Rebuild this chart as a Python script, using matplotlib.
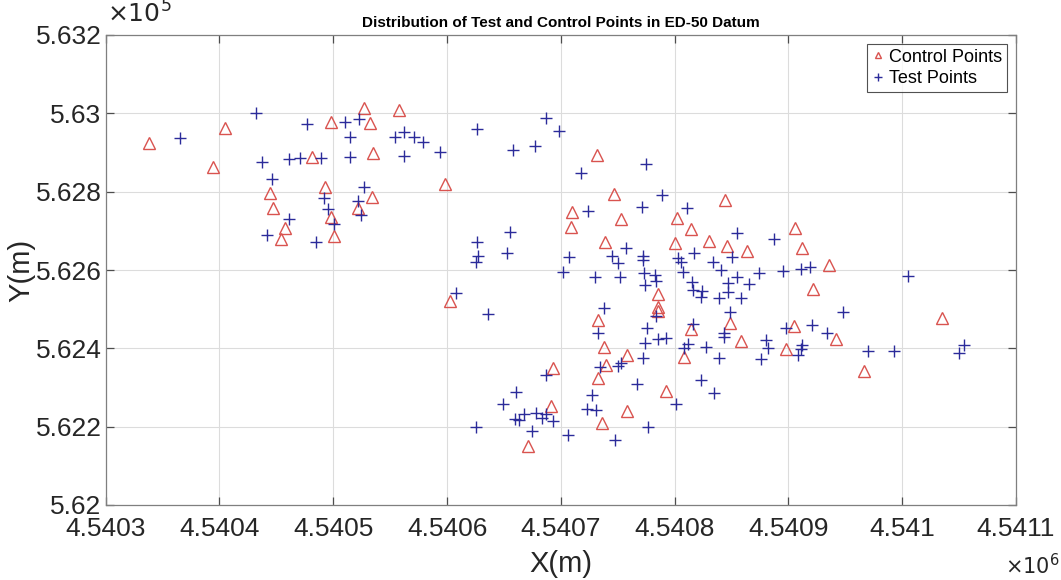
import matplotlib
matplotlib.use("Agg")
import matplotlib.pyplot as plt
from matplotlib.ticker import FuncFormatter

# Control points (ED-50, metres)
ctrl_x = [4540338, 4540405, 4540394, 4540481, 4540498, 4540532, 4540527, 4540558, 4540535, 4540493,
          4540444, 4540598, 4540747, 4540732, 4540534, 4540447, 4540522, 4540498, 4540458, 4540454,
          4540501, 4540710, 4540753, 4540802, 4540709, 4540814, 4540739, 4540800, 4540830, 4540603,
          4540785, 4540785, 4540785, 4540733, 4540814, 4540738, 4540844, 4540906, 4540846, 4540864,
          4540912, 4540936, 4540922, 4541035, 4540849, 4540905, 4540942, 4540858, 4540898, 4540966,
          4540758, 4540740, 4540808, 4540693, 4540733, 4540792, 4540691, 4540758, 4540736, 4540671]
ctrl_y = [562924, 562962, 562864, 562888, 562977, 562976, 563013, 563009, 562900, 562811,
          562797, 562820, 562793, 562894, 562786, 562759, 562758, 562736, 562708, 562679,
          562688, 562747, 562731, 562734, 562711, 562704, 562671, 562670, 562674, 562522,
          562539, 562505, 562496, 562472, 562449, 562403, 562779, 562706, 562662, 562648,
          562657, 562614, 562551, 562477, 562464, 562457, 562424, 562419, 562398, 562343,
          562383, 562357, 562377, 562350, 562324, 562292, 562253, 562240, 562210, 562151]

# Test points
test_x = [4540365, 4540432, 4540437, 4540446, 4540477, 4540461, 4540471, 4540489, 4540510, 4540523,
          4540515, 4540515, 4540554, 4540562, 4540562, 4540527, 4540571, 4540579, 4540594, 4540626,
          4540658, 4540677, 4540687, 4540698, 4540718, 4540775, 4540492, 4540522, 4540495, 4540524,
          4540461, 4540501, 4540442, 4540485, 4540789, 4540724, 4540771, 4540811, 4540655, 4540626,
          4540757, 4540627, 4540625, 4540653, 4540707, 4540745, 4540750, 4540772, 4540772, 4540803,
          4540806, 4540817, 4540702, 4540730, 4540752, 4540773, 4540783, 4540784, 4540774, 4540807,
          4540815, 4540816, 4540824, 4540823, 4540608, 4540636, 4540738, 4540784, 4540733, 4540776,
          4540774, 4540785, 4540792, 4540816, 4540808, 4540812, 4540828, 4540855, 4540887, 4540850,
          4540834, 4540841, 4540911, 4540919, 4540895, 4540874, 4540855, 4541005, 4540865, 4540847,
          4540847, 4540839, 4540858, 4540849, 4540948, 4540898, 4540921, 4540843, 4540843, 4540934,
          4540880, 4540882, 4540912, 4540911, 4540908, 4540970, 4540993, 4541054, 4541050, 4540839,
          4540876, 4540823, 4540835, 4540772, 4540734, 4540750, 4540753, 4540687, 4540767, 4540661,
          4540727, 4540801, 4540649, 4540723, 4540731, 4540660, 4540663, 4540668, 4540678, 4540683,
          4540687, 4540693, 4540625, 4540777, 4540675, 4540706, 4540748]
test_y = [562936, 563000, 562876, 562832, 562972, 562883, 562885, 562885, 562977, 562985,
          562939, 562889, 562940, 562953, 562891, 562813, 562940, 562926, 562902, 562960,
          562906, 562917, 562987, 562956, 562848, 562871, 562783, 562777, 562755, 562740,
          562731, 562717, 562689, 562672, 562792, 562750, 562760, 562758, 562696, 562672,
          562656, 562636, 562620, 562643, 562632, 562637, 562617, 562636, 562625, 562630,
          562620, 562643, 562594, 562582, 562582, 562593, 562587, 562573, 562562, 562594,
          562569, 562549, 562546, 562532, 562542, 562488, 562504, 562483, 562438, 562451,
          562413, 562423, 562426, 562462, 562400, 562411, 562403, 562695, 562678, 562632,
          562621, 562600, 562603, 562607, 562598, 562592, 562583, 562585, 562563, 562566,
          562545, 562528, 562528, 562494, 562494, 562453, 562460, 562440, 562430, 562440,
          562422, 562401, 562408, 562398, 562383, 562393, 562394, 562408, 562387, 562375,
          562373, 562319, 562285, 562375, 562352, 562355, 562363, 562332, 562310, 562289,
          562280, 562257, 562257, 562244, 562243, 562220, 562218, 562232, 562234, 562221,
          562232, 562215, 562198, 562198, 562189, 562180, 562165]

XLIM = (4540300, 4541100)
YLIM = (562000, 563200)

plt.rcParams['font.family'] = ['Liberation Sans', 'DejaVu Sans']

fig = plt.figure(figsize=(10.61, 5.80), dpi=100)
ax = fig.add_axes([105.7 / 1061, 1 - 505 / 580, (1016 - 105.7) / 1061, 470 / 580])

ax.plot(ctrl_x, ctrl_y, linestyle='none', marker='^', markersize=8,
        markerfacecolor='none', markeredgecolor='#d9534f', markeredgewidth=1.0,
        label='Control Points')
ax.plot(test_x, test_y, linestyle='none', marker='+', markersize=9,
        color='#2b2b9a', markeredgewidth=1.0, label='Test Points')

ax.set_xlim(*XLIM)
ax.set_ylim(*YLIM)
ax.set_xticks(range(XLIM[0], XLIM[1] + 1, 100))
ax.set_yticks(range(YLIM[0], YLIM[1] + 1, 200))
ax.xaxis.set_major_formatter(FuncFormatter(lambda v, p: '%g' % round(v / 1e6, 4)))
ax.yaxis.set_major_formatter(FuncFormatter(lambda v, p: '%g' % round(v / 1e5, 3)))

ax.grid(True, color='#dcdcdc', linewidth=0.8)
ax.set_axisbelow(True)
for s in ax.spines.values():
    s.set_color('#7f7f7f')
    s.set_linewidth(0.9)
ax.tick_params(direction='in', top=True, right=True, length=6, width=0.9,
               color='#4d4d4d', labelsize=19, labelcolor='#262626')
ax.tick_params(axis='x', pad=9)
ax.tick_params(axis='y', pad=3)

ax.set_xlabel('X(m)', fontsize=21, color='#262626', labelpad=6)
ax.set_ylabel('Y(m)', fontsize=21, color='#262626', labelpad=0)
ax.set_title('Distribution of Test and Control Points in ED-50 Datum',
             fontsize=11, fontweight='bold', pad=6)

fig.text(107 / 1061, 1 - 14 / 580, r'$\times10^{5}$', ha='left', va='center',
         fontsize=18, color='#262626')
fig.text(1032 / 1061, 1 - 566 / 580, r'$\times10^{6}$', ha='center', va='center',
         fontsize=15, color='#262626')

leg = ax.legend(loc='upper right', fontsize=13, frameon=True, fancybox=False,
                borderpad=0.25, handlelength=0.7, handletextpad=0.3, labelspacing=0.25,
                borderaxespad=0.5, markerscale=0.6)
leg.get_frame().set_edgecolor('#262626')
leg.get_frame().set_linewidth(0.8)

fig.savefig('out.png', dpi=100)
